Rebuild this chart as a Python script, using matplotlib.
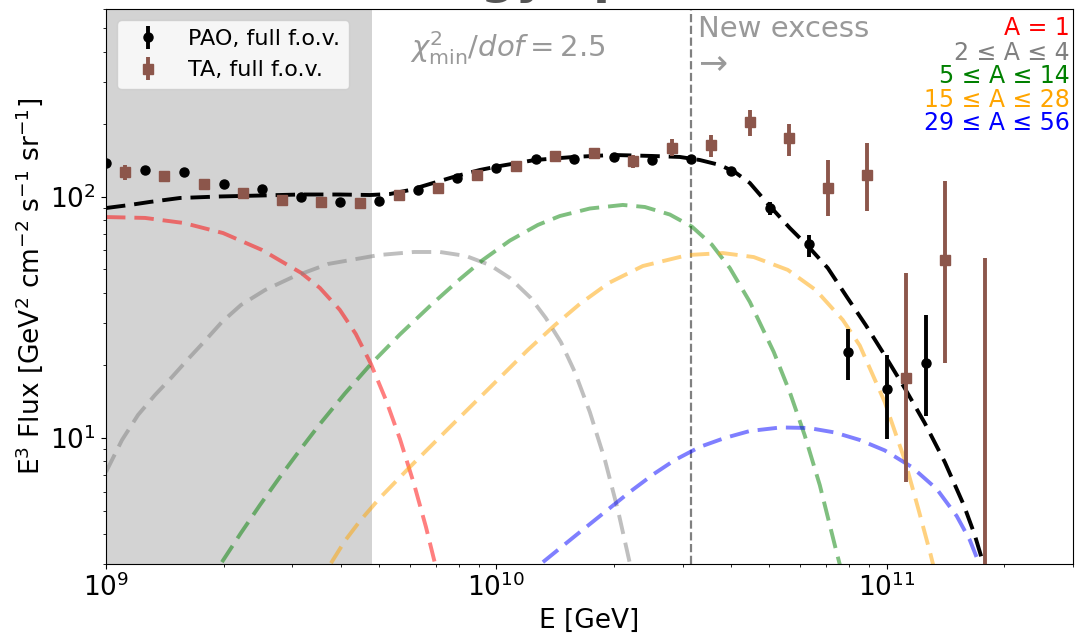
import matplotlib
matplotlib.use("Agg")
import matplotlib.pyplot as plt

# ---------------- data ----------------
# PAO, full f.o.v. (E in GeV, E^3 flux)
pao_E = [1.00e9, 1.26e9, 1.58e9, 2.00e9, 2.51e9, 3.16e9, 3.98e9, 5.01e9, 6.31e9, 7.94e9,
         1.00e10, 1.26e10, 1.58e10, 2.00e10, 2.51e10, 3.16e10, 3.98e10, 5.01e10, 6.31e10,
         7.94e10, 1.00e11, 1.26e11]
pao_flux = [137.8, 129.2, 126.5, 112.8, 107.5, 99.9, 95.5, 96.4, 107.1, 120.1,
            131.7, 144.0, 143.2, 146.8, 142.2, 143.6, 128.4, 89.7, 63.8,
            22.8, 16.0, 20.4]
pao_err_lo = [3, 3, 3, 2, 2, 2, 2, 2, 2, 2, 2, 3, 3, 3, 3, 3, 3, 5.6, 7.3, 5.4, 6.1, 8.0]
pao_err_hi = [3, 3, 3, 2, 2, 2, 2, 2, 2, 2, 2, 3, 3, 3, 3, 3, 3, 5.8, 5.7, 5.5, 6.1, 12.0]

# TA, full f.o.v.
ta_E = [1.12e9, 1.41e9, 1.78e9, 2.24e9, 2.82e9, 3.55e9, 4.47e9, 5.62e9, 7.08e9, 8.91e9,
        1.12e10, 1.41e10, 1.78e10, 2.24e10, 2.82e10, 3.55e10, 4.47e10, 5.62e10, 7.08e10,
        8.91e10, 1.12e11, 1.41e11, 1.78e11]
ta_flux = [127.2, 122.1, 112.8, 104.1, 97.1, 95.0, 94.1, 102.1, 108.6, 122.9,
           134.3, 147.8, 152.5, 140.9, 160.0, 164.1, 205.0, 175.0, 109.2,
           123.2, 17.7, 54.8, 1.0]
ta_err_lo = [9.7, 3.7, 3.4, 3.1, 2.9, 2.9, 2.8, 3.1, 3.3, 3.7,
             4.0, 4.4, 4.6, 9.5, 12.2, 17.3, 26.2, 27.2, 25.6,
             35.8, 11.1, 34.4, 0.5]
ta_err_hi = [8.4, 3.7, 3.4, 3.1, 2.9, 2.9, 2.8, 3.1, 3.3, 3.7,
             4.0, 4.4, 4.6, 8.3, 13.3, 16.4, 24.3, 25.6, 33.0,
             43.6, 30.8, 61.6, 55.0]

# model: total
tot_E = [1.000e9, 1.152e9, 1.296e9, 1.547e9, 1.958e9, 2.480e9, 3.140e9, 3.974e9, 4.744e9,
         5.339e9, 6.005e9, 6.756e9, 7.921e9, 9.074e9, 1.021e10, 1.255e10, 1.579e10,
         1.988e10, 2.502e10, 2.951e10, 3.319e10, 3.736e10, 4.080e10, 4.459e10, 4.987e10,
         5.645e10, 6.277e10, 7.063e10, 7.901e10, 8.836e10, 9.941e10, 1.112e11, 1.251e11,
         1.408e11, 1.575e11, 1.680e11, 1.782e11]
tot_flux = [89.9, 92.6, 95.3, 98.95, 100.4, 101.3, 102.3, 102.3, 101.8,
            102.8, 106.8, 113.1, 122.1, 129.3, 134.3, 142.2, 146.4,
            149.2, 147.8, 146.4, 142.2, 135.6, 126.8, 114.2, 92.6,
            74.3, 62.6, 50.7, 38.5, 29.4, 21.7, 16.1, 11.55,
            7.96, 5.28, 3.97, 2.89]

# components
p_E = [1.000e9, 1.259e9, 1.585e9, 1.995e9, 2.512e9, 3.162e9, 3.532e9, 3.972e9, 4.365e9,
       4.771e9, 5.212e9, 5.662e9, 6.152e9, 6.601e9, 7.079e9]
p_flux = [82.5, 81.8, 77.9, 70.8, 60.2, 48.4, 41.9, 34.0, 27.0,
          20.3, 14.4, 9.92, 6.45, 4.28, 2.71]

he_E = [1.000e9, 1.099e9, 1.208e9, 1.335e9, 1.476e9, 1.641e9, 1.772e9, 1.981e9, 2.216e9,
        2.555e9, 3.011e9, 3.703e9, 5.000e9, 6.150e9, 7.167e9, 8.353e9, 9.620e9, 1.083e10,
        1.225e10, 1.338e10, 1.463e10, 1.588e10, 1.736e10, 1.897e10, 2.048e10, 2.197e10,
        2.249e10]
he_flux = [7.24, 9.82, 12.47, 15.09, 17.92, 21.69, 24.79, 30.29, 35.62,
           41.1, 46.55, 52.7, 57.4, 59.1, 59.1, 56.9, 52.2, 46.1,
           38.1, 31.5, 25.0, 18.8, 12.8, 8.11, 5.03, 3.03,
           2.58]

cno_E = [1.981e9, 2.216e9, 2.480e9, 2.790e9, 3.140e9, 3.532e9, 4.093e9, 4.771e9, 5.661e9,
         6.798e9, 8.065e9, 9.236e9, 1.083e10, 1.277e10, 1.454e10, 1.736e10, 2.108e10,
         2.401e10, 2.782e10, 3.168e10, 3.564e10, 3.963e10, 4.459e10, 5.135e10, 5.645e10,
         6.166e10, 6.736e10, 7.447e10, 7.624e10]
cno_flux = [3.06, 4.04, 5.28, 6.90, 8.93, 11.44, 15.31, 20.28, 26.9,
            35.6, 45.6, 54.8, 65.9, 76.5, 83.3, 89.5, 92.6,
            90.8, 84.5, 75.3, 63.4, 50.7, 36.7, 22.75, 15.5,
            10.25, 6.39, 3.34, 2.89]

si_E = [3.770e9, 4.093e9, 4.471e9, 5.031e9, 6.005e9, 7.513e9, 9.625e9, 1.204e10, 1.412e10,
        1.636e10, 1.942e10, 2.373e10, 3.094e10, 3.802e10, 4.564e10, 5.579e10, 6.579e10,
        7.715e10, 8.529e10, 9.883e10, 1.112e11, 1.207e11, 1.296e11, 1.319e11]
si_flux = [3.03, 3.75, 4.53, 5.65, 7.59, 10.9, 16.2, 23.2, 29.4,
           36.0, 44.0, 51.7, 57.4, 58.5, 56.3, 49.8, 41.1,
           30.9, 24.2, 14.1, 8.11, 5.03, 3.28, 2.92]

fe_E = [1.316e10, 1.579e10, 1.841e10, 2.197e10, 2.531e10, 2.865e10, 3.319e10, 3.846e10,
        4.459e10, 5.353e10, 6.314e10, 7.360e10, 8.529e10, 9.883e10, 1.159e11, 1.343e11,
        1.511e11, 1.632e11, 1.730e11, 1.751e11]
fe_flux = [3.06, 3.89, 4.75, 5.98, 7.10, 8.11, 9.19, 10.01,
           10.7, 11.07, 11.01, 10.55, 9.82, 8.89, 7.59, 6.15,
           4.75, 3.78, 2.98, 2.8]

comp_labels = ["A = 1", "2 \u2264 A \u2264 4", "5 \u2264 A \u2264 14",
               "15 \u2264 A \u2264 28", "29 \u2264 A \u2264 56"]
comp_colors = ["red", "gray", "green", "orange", "blue"]

# ---------------- plot ----------------
fig = plt.figure(figsize=(10.76, 6.33), dpi=100)
ax = fig.add_axes([106 / 1076, (633 - 564.2) / 633, 967 / 1076, 555 / 633])

ax.axvspan(1e9, 4.8e9, color="lightgray", zorder=0, lw=0)
ax.axvline(3.16e10, color="gray", ls="--", lw=1.6, zorder=1)

comp_data = [(p_E, p_flux), (he_E, he_flux), (cno_E, cno_flux), (si_E, si_flux), (fe_E, fe_flux)]
for (e, f), c in zip(comp_data, comp_colors):
    ax.plot(e, f, color=c, alpha=0.5, lw=2.8, zorder=2, dashes=(5.0, 2.3))

ax.plot(tot_E, tot_flux, color="black", lw=2.8, zorder=3, dashes=(5.0, 2.3))

ax.errorbar(pao_E, pao_flux, yerr=[pao_err_lo, pao_err_hi], fmt="o", color="black",
            ms=6.5, elinewidth=2.8, capsize=0, label="PAO, full f.o.v.", zorder=5)
ax.errorbar(ta_E, ta_flux, yerr=[ta_err_lo, ta_err_hi], fmt="s", color="#8c564b",
            ms=6.5, elinewidth=2.8, capsize=0, label="TA, full f.o.v.", zorder=4)

ax.set_xscale("log")
ax.set_yscale("log")
ax.set_xlim(1e9, 3e11)
ax.set_ylim(3, 600)
ax.set_xlabel("E [GeV]", fontsize=19)
ax.set_ylabel(r"E$^3$ Flux [GeV$^2$ cm$^{-2}$ s$^{-1}$ sr$^{-1}$]", fontsize=19)
ax.tick_params(axis="both", which="major", labelsize=19)

ax.legend(loc="upper left", fontsize=16)

ax.text(6.0e9, 380, r"$\chi^2_{\rm min}/dof = 2.5$", color="gray", alpha=0.8,
        fontsize=21, ha="left", va="baseline")
ax.text(3.28e10, 460, "New excess", color="gray", alpha=0.8, fontsize=21,
        ha="left", va="baseline")
ax.text(3.28e10, 325, "\u2192", color="gray", alpha=0.8, fontsize=25,
        ha="left", va="baseline")

label_y = [0.9535, 0.9085, 0.867, 0.8238, 0.7823]
for lab, c, yy in zip(comp_labels, comp_colors, label_y):
    ax.text(0.997, yy, lab, color=c, fontsize=17, ha="right", va="baseline",
            transform=ax.transAxes)

fig.text(0.548, 1.011, "Energy spectrum", color="#555555", fontsize=35,
         fontweight="bold", ha="center", va="baseline")

fig.savefig("out.png", dpi=100)
